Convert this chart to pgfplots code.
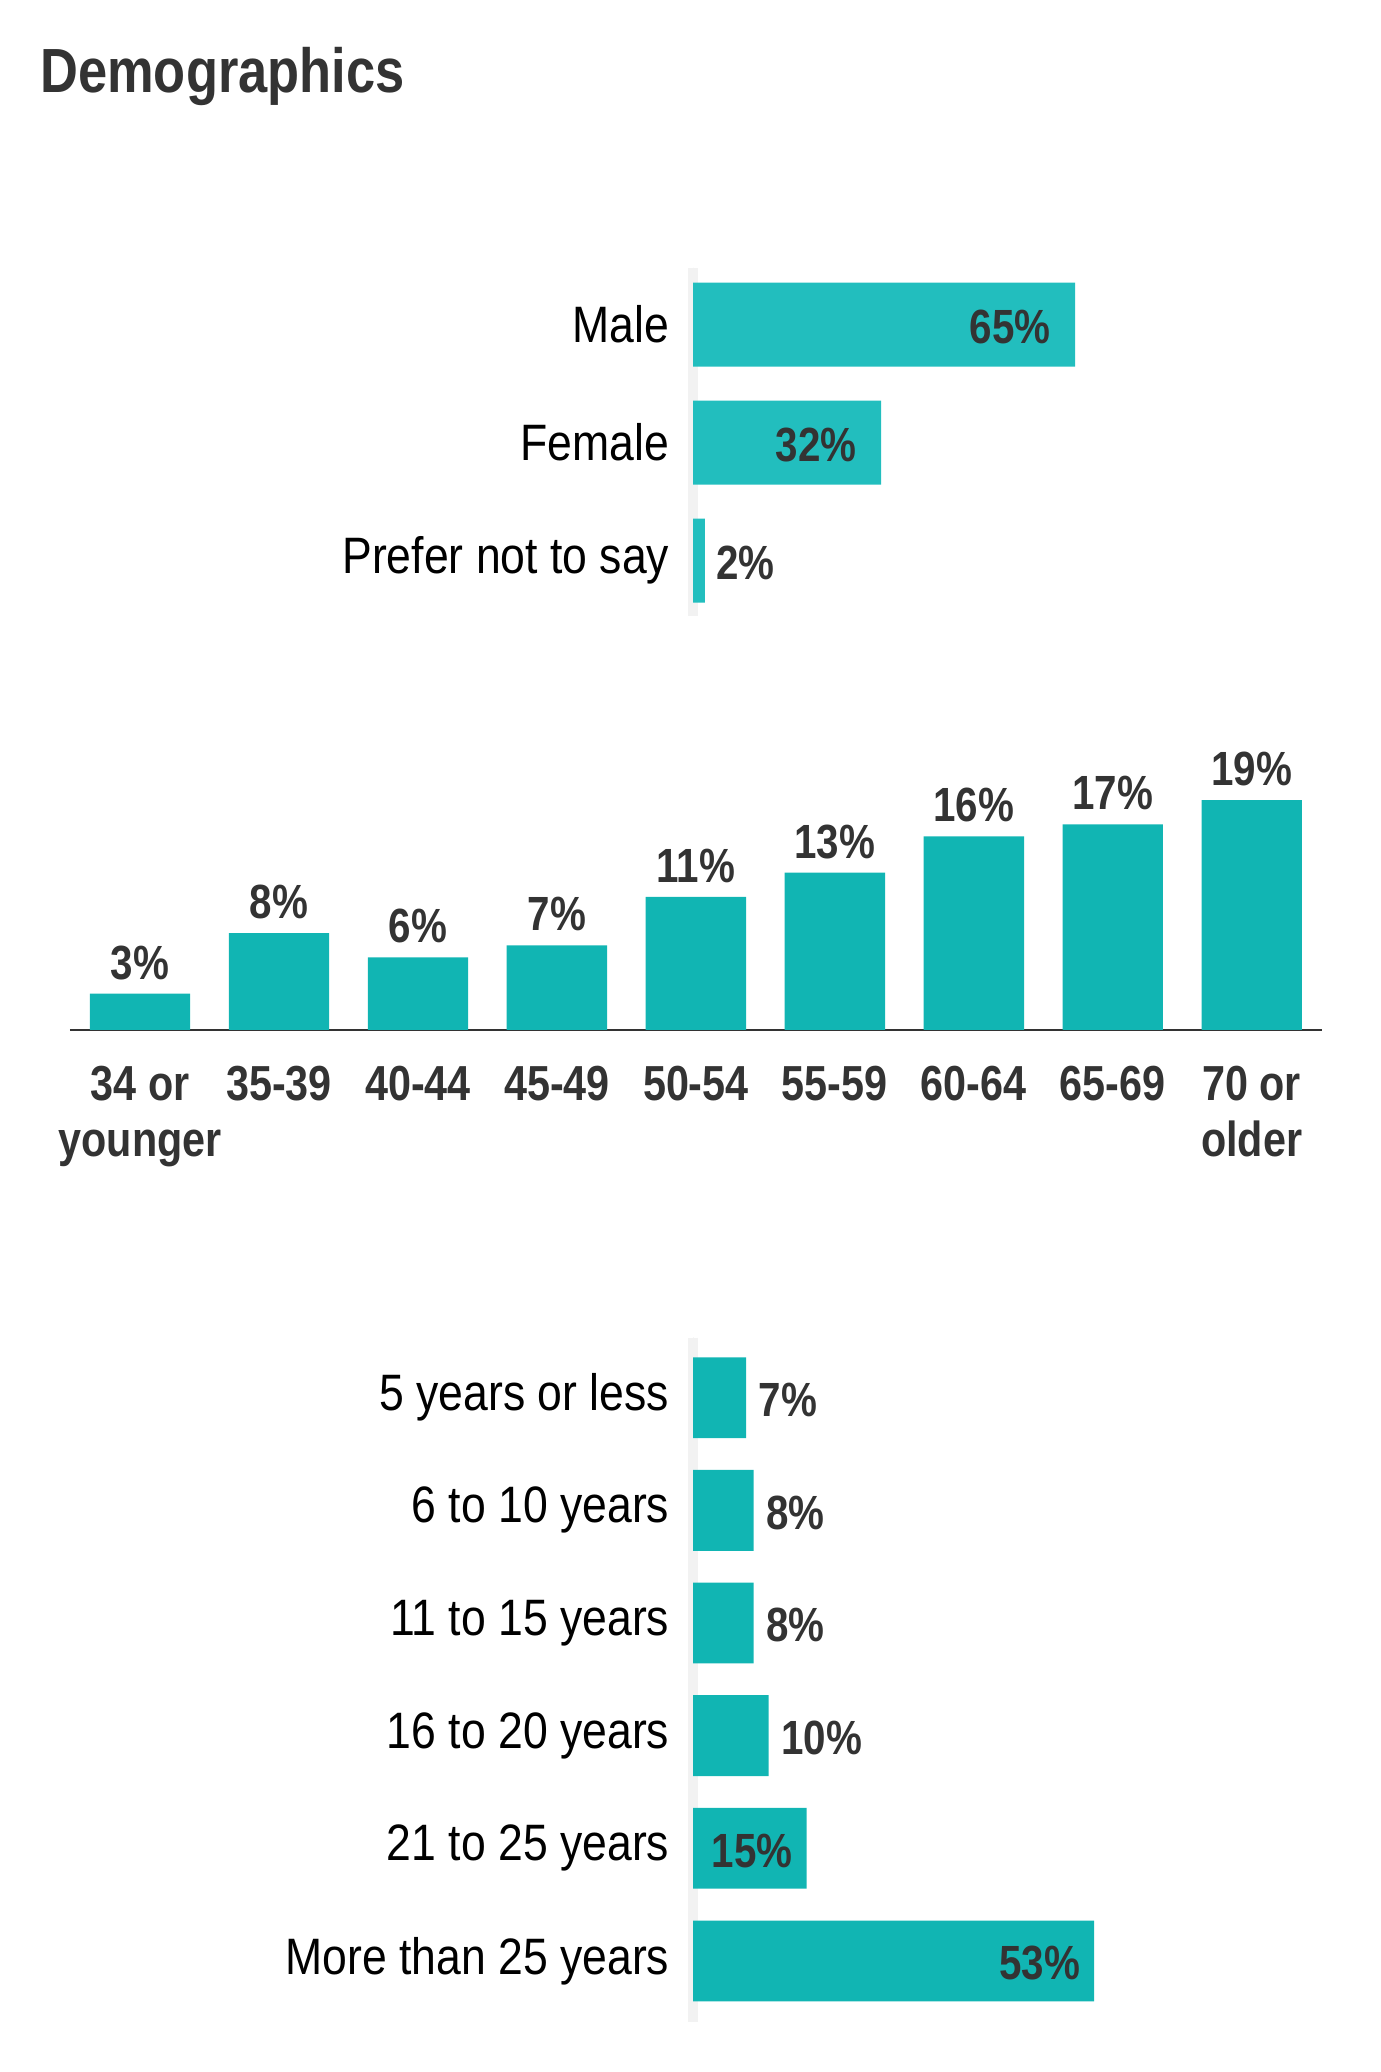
\documentclass[border=0pt]{standalone}
\usepackage{pgfplots}
\pgfplotsset{compat=1.18}
\usepackage{fontspec}
\setmainfont{Liberation Sans}[FakeStretch=0.87, BoldFeatures={FakeStretch=0.84}]
\definecolor{barA}{RGB}{34,190,190}
\definecolor{barB}{RGB}{17,181,179}
\definecolor{ink}{HTML}{333333}

\newcommand\catfont{\fontsize{12.8}{14}\selectfont}
\newcommand\valfont{\fontsize{12}{14}\selectfont\bfseries}

\pgfplotsset{
  /pgf/number format/assume math mode=true,
  hbars/.style={
    scale only axis, anchor=south west,
    xmin=0, xmax=100, y dir=reverse,
    axis x line=none, axis y line=left,
    y axis line style={-, draw=ink, line width=0.5pt},
    major tick length=0pt, ytick=data,
    yticklabel style={font=\catfont, text=black, inner sep=0pt, xshift=-5.75pt},
    clip=false,
  },
  inlabel/.style={draw=none, mark=none, point meta=x,
    nodes near coords={\pgfmathprintnumber{\pgfplotspointmeta}\%},
    every node near coord/.append style={font=\valfont, text=ink, anchor=east, inner sep=0pt, xshift=-#1, yshift=-0.6pt}},
  outlabel/.style={draw=none, mark=none, point meta=x,
    nodes near coords={\pgfmathprintnumber{\pgfplotspointmeta}\%},
    every node near coord/.append style={font=\valfont, text=ink, anchor=west, inner sep=0pt, xshift=#1, yshift=-0.6pt}},
}

\begin{document}
\begin{tikzpicture}
\useasboundingbox (0,0) rectangle (345pt,518pt);

\node[anchor=west, text=ink, font=\fontsize{15.6}{18}\selectfont\bfseries, inner sep=0pt] at (9.9pt,498.8pt) {Demographics};

% gender
\begin{axis}[hbars, at={(173.25pt,364pt)}, width=147pt, height=87pt,
  ymin=-0.48, ymax=2.47,
  yticklabels={Male, Female, Prefer not to say}]
\draw[black!5, line width=2.5pt] (axis cs:0,-0.48) -- (axis cs:0,2.47);
\addplot[xbar, bar width=21pt, bar shift=0pt, fill=barA, draw=none]
  coordinates {(65,0) (32,1) (2,2)};
\addplot[inlabel=6pt] coordinates {(65,0) (32,1)};
\addplot[outlabel=2.75pt] coordinates {(2,2)};
\end{axis}

% age
\begin{axis}[at={(17.5pt,260.5pt)}, anchor=south west, scale only axis,
  width=313pt, height=60.5pt,
  xmin=-0.504, xmax=8.506, ymin=0, ymax=20,
  axis x line=bottom, axis y line=none,
  x axis line style={-, draw=ink, line width=0.6pt},
  major tick length=0pt, xtick={0,...,8},
  xticklabels={{34 or\\younger},35-39,40-44,45-49,50-54,55-59,60-64,65-69,{70 or\\older}},
  xticklabel style={align=center, font=\fontsize{12.3}{14.2}\selectfont\bfseries, text=ink,
    anchor=north, inner sep=0pt, yshift=-8.75pt},
  clip=false]
\addplot[ybar, bar width=25.1pt, bar shift=0pt, fill=barB, draw=none,
  point meta=y, nodes near coords={\pgfmathprintnumber{\pgfplotspointmeta}\%},
  every node near coord/.append style={font=\valfont, text=ink, anchor=south, inner sep=0pt, yshift=3.3pt}]
  coordinates {(0,3) (1,8) (2,6) (3,7) (4,11) (5,13) (6,16) (7,17) (8,19)};
\end{axis}

% years
\begin{axis}[hbars, at={(173.25pt,12.4pt)}, width=189.25pt, height=171.2pt,
  ymin=-0.534, ymax=5.546,
  yticklabels={5 years or less, 6 to 10 years, 11 to 15 years, 16 to 20 years, 21 to 25 years, More than 25 years}]
\draw[black!5, line width=2.5pt] (axis cs:0,-0.534) -- (axis cs:0,5.546);
\addplot[xbar, bar width=20.2pt, bar shift=0pt, fill=barB, draw=none]
  coordinates {(7,0) (8,1) (8,2) (10,3) (15,4) (53,5)};
\addplot[outlabel=3pt] coordinates {(7,0) (8,1) (8,2) (10,3)};
\addplot[inlabel=3.3pt] coordinates {(15,4) (53,5)};
\end{axis}
\end{tikzpicture}
\end{document}
